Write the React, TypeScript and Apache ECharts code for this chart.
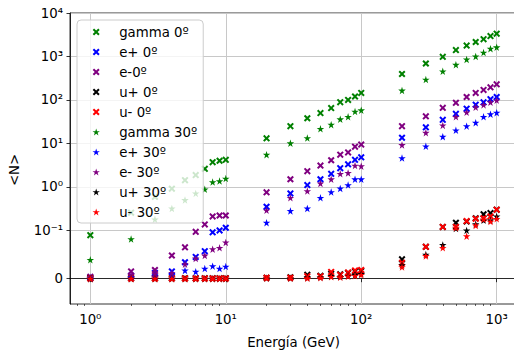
import { useEffect, useRef } from 'react';
import * as echarts from 'echarts';

// ---------------- data ----------------
const energies = [1, 2, 3, 4, 5, 6, 7, 8, 9, 10, 20, 30, 40, 50, 60, 70, 80, 90, 100, 200, 300, 400, 500, 600, 700, 800, 900, 1000];

const gamma0 = [0.09, 0.255, 0.59, 0.91, 1.43, 1.87, 2.6, 3.7, 4.0, 4.2, 13.1, 25, 38, 50, 65, 89, 100, 120, 145, 395, 690, 980, 1400, 1780, 2150, 2500, 2950, 3350];
const ePlus0 = [0.002, 0.006, 0.012, 0.015, 0.034, 0.045, 0.057, 0.096, 0.1, 0.115, 0.35, 0.71, 1.1, 1.5, 2.0, 2.7, 3.3, 4.2, 4.8, 13.5, 23.5, 35, 48, 63, 78, 88, 104, 117];
const eMinus0 = [0.004, 0.015, 0.018, 0.048, 0.065, 0.097, 0.137, 0.21, 0.22, 0.22, 0.75, 1.5, 2.3, 3.1, 4.1, 5.5, 6.2, 8.4, 9.4, 25, 42, 66, 86, 117, 145, 170, 195, 229];
const muPlus0 = [0.001, 0.001, 0.001, 0.001, 0.001, 0.001, 0.001, 0.001, 0.001, 0.001, 0.002, 0.003, 0.008, 0.006, 0.01, 0.009, 0.012, 0.015, 0.016, 0.04, 0.066, 0.12, 0.15, 0.16, 0.19, 0.235, 0.25, 0.3];
const muMinus0 = [0.0005, 0.0005, 0.0005, 0.0005, 0.0005, 0.0005, 0.0005, 0.0005, 0.0005, 0.0005, 0.002, 0.002, 0.005, 0.005, 0.014, 0.008, 0.013, 0.017, 0.018, 0.033, 0.066, 0.12, 0.12, 0.164, 0.185, 0.19, 0.21, 0.3];
const gamma30 = [0.039, 0.082, 0.18, 0.32, 0.5, 0.71, 0.88, 1.29, 1.36, 1.56, 5.5, 10.1, 13.3, 21.7, 27, 36, 41, 54, 58, 165, 295, 455, 645, 855, 1000, 1230, 1510, 1630];
const ePlus30 = [0.001, 0.004, 0.005, 0.008, 0.017, 0.0145, 0.021, 0.026, 0.021, 0.025, 0.15, 0.28, 0.32, 0.56, 0.76, 0.92, 1.1, 1.5, 1.5, 4.6, 8.6, 14.3, 20, 25, 30, 41, 47, 51];
const eMinus30 = [0.003, 0.008, 0.01, 0.012, 0.03, 0.042, 0.048, 0.061, 0.064, 0.075, 0.29, 0.56, 0.8, 1.2, 1.5, 2.0, 2.1, 3.1, 3.0, 9.2, 17.6, 26, 41, 52, 68, 77, 89, 98];
const muPlus30 = [0, 0, 0, 0, 0, 0, 0, 0, 0, 0, 0.001, 0.001, 0.002, 0.003, 0.005, 0.004, 0.006, 0.008, 0.01, 0.028, 0.05, 0.07, 0.11, 0.1, 0.14, 0.17, 0.17, 0.21];
const muMinus30 = [0, 0, 0, 0, 0, 0, 0, 0, 0, 0, 0.001, 0.001, 0.001, 0.002, 0.004, 0.003, 0.005, 0.006, 0.008, 0.024, 0.047, 0.064, 0.115, 0.088, 0.13, 0.18, 0.16, 0.185];

const seriesNames = ['gamma 0º', 'e+ 0º', 'e-0º', 'u+ 0º', 'u- 0º', 'gamma 30º', 'e+ 30º', 'e- 30º', 'u+ 30º', 'u- 30º'];
const seriesValues = [gamma0, ePlus0, eMinus0, muPlus0, muMinus0, gamma30, ePlus30, eMinus30, muPlus30, muMinus30];
const seriesColors = ['#008000', '#0000ff', '#800080', '#000000', '#ff0000', '#008000', '#0000ff', '#800080', '#000000', '#ff0000'];
const seriesIsStar = [false, false, false, false, false, true, true, true, true, true];

const yTickValues = [0, 0.1, 1, 10, 100, 1000, 10000];
const yTickLabels = ['0', '10⁻¹', '10⁰', '10¹', '10²', '10³', '10⁴'];
const xTickValues = [1, 10, 100, 1000];
const xTickLabels = ['10⁰', '10¹', '10²', '10³'];
const xMinorTicks = [0.8, 0.9, 2, 3, 4, 5, 6, 7, 8, 9, 20, 30, 40, 50, 60, 70, 80, 90, 200, 300, 400, 500, 600, 700, 800, 900];
const yAxisTitle = '<N>';
const xAxisTitle = 'Energía (GeV)';

// ---------------- helpers ----------------
const LINTHRESH = 0.1;
const LINSCALE = 10 / 9;
function symlog(v: number): number {
  return v <= LINTHRESH ? (v / LINTHRESH) * LINSCALE : LINSCALE + Math.log10(v / LINTHRESH);
}

const X_PATH = 'path://M2,0 L5,3 L8,0 L10,2 L7,5 L10,8 L8,10 L5,7 L2,10 L0,8 L3,5 L0,2 Z';
const STAR_PATH = 'path://M5,0 L6.123,3.455 L9.755,3.455 L6.817,5.59 L7.939,9.045 L5,6.91 L2.061,9.045 L3.183,5.59 L0.245,3.455 L3.877,3.455 Z';

const FONT = 'DejaVu Sans';
const X_MIN = Math.pow(10, -0.15);
const X_MAX = Math.pow(10, 3.15);

export default function App() {
  const ref = useRef<HTMLDivElement>(null);

  useEffect(() => {
    if (!ref.current) return;
    const chart = echarts.init(ref.current, undefined, { renderer: 'svg' });

    const yCustom = yTickValues.map(symlog);

    const option: any = {
      animation: false,
      backgroundColor: '#ffffff',
      grid: {
        left: 70,
        top: 13,
        right: -3,
        bottom: 46,
        show: true,
        borderColor: '#000000',
        borderWidth: 0.8,
        backgroundColor: 'transparent',
        containLabel: false,
        outerBoundsMode: 'none',
      },
      graphic: [
        {
          type: 'text',
          x: 14,
          y: 170,
          rotation: Math.PI / 2,
          style: {
            text: yAxisTitle,
            fontFamily: FONT,
            fontSize: 13.3,
            fill: '#000000',
            align: 'center',
            verticalAlign: 'middle',
          },
        },
      ],
      legend: {
        orient: 'vertical',
        left: 77,
        top: 20,
        itemWidth: 36,
        itemHeight: 7,
        itemGap: 0,
        padding: [2, 6, 1, 15.5],
        backgroundColor: 'rgba(255,255,255,0.8)',
        borderColor: '#cccccc',
        borderWidth: 1,
        borderRadius: 4,
        selectedMode: false,
        textStyle: { fontFamily: FONT, fontSize: 13.3, color: '#000000', lineHeight: 20 },
        data: seriesNames.map((n, i) => ({ name: n, icon: seriesIsStar[i] ? STAR_PATH : X_PATH })),
      },
      xAxis: [
        {
          type: 'log',
          min: X_MIN,
          max: X_MAX,
          position: 'bottom',
          name: xAxisTitle,
          nameLocation: 'middle',
          nameGap: 32,
          nameMoveOverlap: false,
          nameTextStyle: { fontFamily: FONT, fontSize: 13.3, color: '#000000' },
          axisLine: { show: true, lineStyle: { color: '#000000', width: 0.8 } },
          axisTick: { show: true, inside: false, length: 3.5, customValues: xTickValues, lineStyle: { color: '#000000', width: 0.8 } },
          axisLabel: {
            show: true,
            margin: 9,
            customValues: xTickValues,
            fontFamily: FONT,
            fontSize: 13.3,
            color: '#000000',
            formatter: (v: number) => {
              const idx = xTickValues.findIndex((t) => Math.abs(t - v) / t < 1e-6);
              return idx >= 0 ? xTickLabels[idx] : '';
            },
          },
          splitLine: { show: true, lineStyle: { color: '#c8c8c8', width: 1 } },
          minorTick: { show: false },
        },
        {
          type: 'log',
          min: X_MIN,
          max: X_MAX,
          position: 'bottom',
          axisLine: { show: false },
          axisLabel: { show: false },
          splitLine: { show: false },
          axisTick: { show: true, inside: false, length: 2, customValues: xMinorTicks, lineStyle: { color: '#000000', width: 0.6 } },
        },
      ],
      yAxis: {
        type: 'value',
        min: -0.582,
        max: symlog(10000),
        axisLine: { show: true, lineStyle: { color: '#000000', width: 0.8 } },
        axisTick: { show: true, inside: false, length: 3.5, customValues: yCustom, lineStyle: { color: '#000000', width: 0.8 } },
        axisLabel: {
          show: true,
          margin: 7,
          customValues: yCustom,
          fontFamily: FONT,
          fontSize: 13.3,
          color: '#000000',
          formatter: (v: number) => {
            const idx = yCustom.findIndex((t) => Math.abs(t - v) < 1e-6);
            return idx >= 0 ? yTickLabels[idx] : '';
          },
        },
        splitLine: { show: true, lineStyle: { color: '#c8c8c8', width: 1 } },
      },
      series: seriesNames.map((name, i) => ({
        type: 'scatter',
        name,
        xAxisIndex: 0,
        yAxisIndex: 0,
        symbol: seriesIsStar[i] ? STAR_PATH : X_PATH,
        symbolSize: seriesIsStar[i] ? 7.5 : 7,
        itemStyle: { color: seriesColors[i], opacity: 1 },
        emphasis: { disabled: true },
        data: energies.map((e, k) => [e, symlog(seriesValues[i][k])]),
      })),
    };

    chart.setOption(option);
    return () => chart.dispose();
  }, []);

  return <div ref={ref} style={{ position: 'fixed', left: 0, top: 0, width: 514, height: 350 }} />;
}
